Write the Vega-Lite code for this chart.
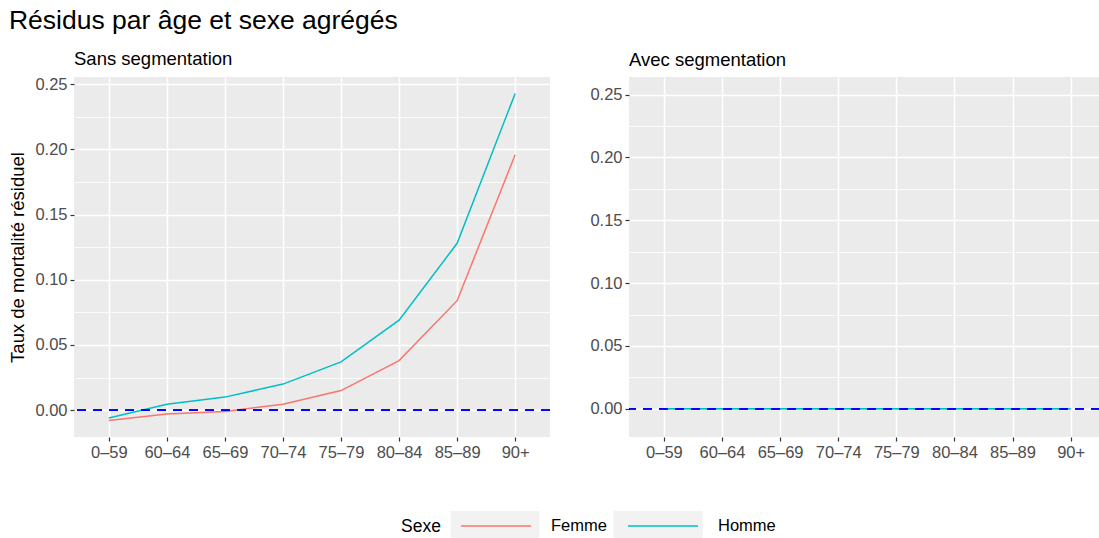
{
  "$schema": "https://vega.github.io/schema/vega-lite/v6.json",
  "padding": {"left": 8, "top": 8, "right": 0, "bottom": 0},
  "title": {"text": "Résidus par âge et sexe agrégés", "anchor": "start", "fontSize": 26.5, "font": "Liberation Sans", "fontWeight": "normal", "color": "black", "offset": 15},
  "datasets": {
    "res": [
      {"panel": "Sans segmentation", "age": "0–59", "Sexe": "Femme", "value": -0.008},
      {"panel": "Sans segmentation", "age": "60–64", "Sexe": "Femme", "value": -0.003},
      {"panel": "Sans segmentation", "age": "65–69", "Sexe": "Femme", "value": -0.001},
      {"panel": "Sans segmentation", "age": "70–74", "Sexe": "Femme", "value": 0.0045},
      {"panel": "Sans segmentation", "age": "75–79", "Sexe": "Femme", "value": 0.015},
      {"panel": "Sans segmentation", "age": "80–84", "Sexe": "Femme", "value": 0.038},
      {"panel": "Sans segmentation", "age": "85–89", "Sexe": "Femme", "value": 0.084},
      {"panel": "Sans segmentation", "age": "90+", "Sexe": "Femme", "value": 0.196},
      {"panel": "Sans segmentation", "age": "0–59", "Sexe": "Homme", "value": -0.006},
      {"panel": "Sans segmentation", "age": "60–64", "Sexe": "Homme", "value": 0.0045},
      {"panel": "Sans segmentation", "age": "65–69", "Sexe": "Homme", "value": 0.010},
      {"panel": "Sans segmentation", "age": "70–74", "Sexe": "Homme", "value": 0.020},
      {"panel": "Sans segmentation", "age": "75–79", "Sexe": "Homme", "value": 0.037},
      {"panel": "Sans segmentation", "age": "80–84", "Sexe": "Homme", "value": 0.069},
      {"panel": "Sans segmentation", "age": "85–89", "Sexe": "Homme", "value": 0.128},
      {"panel": "Sans segmentation", "age": "90+", "Sexe": "Homme", "value": 0.243},
      {"panel": "Avec segmentation", "age": "0–59", "Sexe": "Femme", "value": 0},
      {"panel": "Avec segmentation", "age": "60–64", "Sexe": "Femme", "value": 0},
      {"panel": "Avec segmentation", "age": "65–69", "Sexe": "Femme", "value": 0},
      {"panel": "Avec segmentation", "age": "70–74", "Sexe": "Femme", "value": 0},
      {"panel": "Avec segmentation", "age": "75–79", "Sexe": "Femme", "value": 0},
      {"panel": "Avec segmentation", "age": "80–84", "Sexe": "Femme", "value": 0},
      {"panel": "Avec segmentation", "age": "85–89", "Sexe": "Femme", "value": 0},
      {"panel": "Avec segmentation", "age": "90+", "Sexe": "Femme", "value": 0},
      {"panel": "Avec segmentation", "age": "0–59", "Sexe": "Homme", "value": 0},
      {"panel": "Avec segmentation", "age": "60–64", "Sexe": "Homme", "value": 0},
      {"panel": "Avec segmentation", "age": "65–69", "Sexe": "Homme", "value": 0},
      {"panel": "Avec segmentation", "age": "70–74", "Sexe": "Homme", "value": 0},
      {"panel": "Avec segmentation", "age": "75–79", "Sexe": "Homme", "value": 0},
      {"panel": "Avec segmentation", "age": "80–84", "Sexe": "Homme", "value": 0},
      {"panel": "Avec segmentation", "age": "85–89", "Sexe": "Homme", "value": 0},
      {"panel": "Avec segmentation", "age": "90+", "Sexe": "Homme", "value": 0}
    ],
    "ref": [{"ref": 0, "cle": "Femme"}, {"ref": 0, "cle": "Homme"}]
  },
  "spacing": 38,
  "hconcat": [
    {
      "width": 476,
      "height": 360,
      "title": {"text": "Sans segmentation", "anchor": "start", "frame": "group", "fontSize": 18.5, "font": "Liberation Sans", "fontWeight": "normal", "color": "black", "offset": 8},
      "resolve": {"axis": {"y": "independent"}},
      "layer": [
        {
          "data": {"name": "res"},
          "transform": [{"filter": "datum.panel === 'Sans segmentation'"}],
          "mark": {"type": "line", "strokeWidth": 1.5},
          "encoding": {
            "x": {"field": "age", "type": "ordinal", "sort": null, "scale": {"type": "point", "padding": 0.6}, "axis": {"title": null, "labelAngle": 0, "grid": true}},
            "y": {"field": "value", "type": "quantitative", "scale": {"domain": [-0.0206, 0.2556], "nice": false, "zero": false}, "axis": {"title": "Taux de mortalité résiduel", "values": [0, 0.05, 0.1, 0.15, 0.2, 0.25], "format": ".2f", "grid": true}},
            "stroke": {"field": "Sexe", "type": "nominal", "scale": {"domain": ["Femme", "Homme"], "range": ["#F8766D", "#00BFC4"]},
              "legend": {"zindex": 2, "orient": "none", "legendX": 327, "legendY": 434, "direction": "horizontal", "title": "Sexe", "titleOrient": "left", "symbolType": "M-3.18,-1M-2.5,0H2.5M3.18,1", "symbolSize": 784, "symbolStrokeWidth": 1.5, "labelOffset": 40, "columnPadding": 8, "titlePadding": 40, "labelFontSize": 16.5, "titleFontSize": 17.5, "labelFont": "Liberation Sans", "titleFont": "Liberation Sans", "titleFontWeight": "normal", "labelColor": "black", "titleColor": "black"}}
          }
        },
        {
          "data": {"name": "ref"},
          "mark": {"type": "rule", "color": "#0000FF", "strokeWidth": 1.6},
          "encoding": {
            "y": {"field": "ref", "type": "quantitative", "scale": {"domain": [-0.0206, 0.2556], "nice": false, "zero": false}, "axis": {"orient": "right", "title": null, "values": [0.025, 0.075, 0.125, 0.175, 0.225], "labels": false, "ticks": false, "domain": false, "grid": true, "gridWidth": 0.8}},
            "strokeDash": {"field": "cle", "type": "nominal", "scale": {"range": [[9, 7], [9, 7]]},
              "legend": {"zindex": 1, "orient": "none", "legendX": 327, "legendY": 434, "direction": "horizontal", "title": "Sexe", "titleOrient": "left", "symbolType": "M-3.18,-1H3.18V1H-3.18Z", "symbolSize": 784, "symbolStrokeWidth": 0, "symbolFillColor": "#F2F2F2", "symbolStrokeColor": "transparent", "labelOffset": 40, "columnPadding": 8, "titlePadding": 40, "labelFontSize": 16.5, "titleFontSize": 17.5, "labelFont": "Liberation Sans", "titleFont": "Liberation Sans", "titleFontWeight": "normal", "labelColor": "transparent", "titleColor": "transparent"}}
          }
        }
      ]
    },
    {
      "width": 471,
      "height": 360,
      "title": {"text": "Avec segmentation", "anchor": "start", "frame": "group", "fontSize": 18.5, "font": "Liberation Sans", "fontWeight": "normal", "color": "black", "offset": 8},
      "resolve": {"axis": {"y": "independent"}},
      "layer": [
        {
          "data": {"name": "res"},
          "transform": [{"filter": "datum.panel === 'Avec segmentation'"}],
          "mark": {"type": "line", "strokeWidth": 1.5},
          "encoding": {
            "x": {"field": "age", "type": "ordinal", "sort": null, "scale": {"type": "point", "padding": 0.553, "align": 0.543}, "axis": {"title": null, "labelAngle": 0, "grid": true}},
            "y": {"field": "value", "type": "quantitative", "scale": {"domain": [-0.0224, 0.264], "nice": false, "zero": false}, "axis": {"title": null, "values": [0, 0.05, 0.1, 0.15, 0.2, 0.25], "format": ".2f", "grid": true}},
            "stroke": {"field": "Sexe", "type": "nominal"}
          }
        },
        {
          "data": {"name": "ref"},
          "mark": {"type": "rule", "color": "#0000FF", "strokeDash": [9, 7], "strokeWidth": 1.6},
          "encoding": {
            "y": {"field": "ref", "type": "quantitative", "scale": {"domain": [-0.0224, 0.264], "nice": false, "zero": false}, "axis": {"orient": "right", "title": null, "values": [0.025, 0.075, 0.125, 0.175, 0.225], "labels": false, "ticks": false, "domain": false, "grid": true, "gridWidth": 0.8}}
          }
        }
      ]
    }
  ],
  "config": {
    "view": {"fill": "#EBEBEB", "stroke": null},
    "axis": {"gridColor": "#FFFFFF", "gridWidth": 1.5, "domain": false, "tickColor": "#333333", "tickSize": 4, "tickWidth": 1.2, "labelColor": "#4D4D4D", "labelFontSize": 16.5, "labelFont": "Liberation Sans", "labelPadding": 3, "titleFont": "Liberation Sans", "titleFontWeight": "normal", "titleFontSize": 18.5, "titleColor": "black", "titlePadding": 7}
  }
}
